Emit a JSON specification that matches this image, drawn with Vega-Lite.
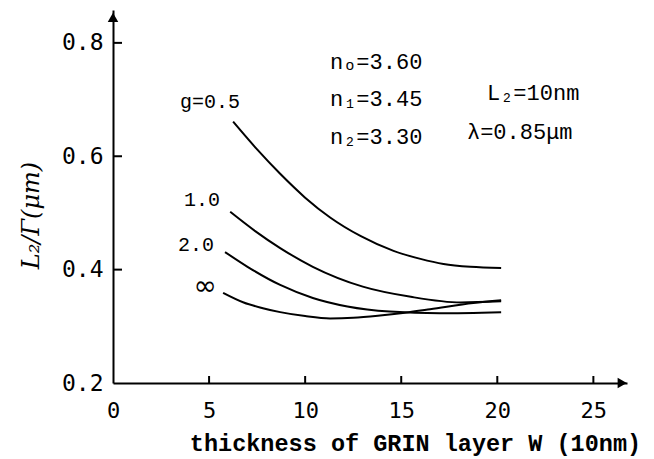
{
  "$schema": "https://vega.github.io/schema/vega-lite/v6.json",
  "width": 514,
  "height": 373,
  "autosize": {"type": "none"},
  "padding": {"left": 113, "top": 10, "right": 27, "bottom": 76},
  "background": "white",
  "config": {
    "view": {"stroke": null},
    "axis": {
      "grid": false,
      "ticks": false,
      "domainColor": "black",
      "domainWidth": 2,
      "labelColor": "black",
      "titleColor": "black",
      "labelFont": "DejaVu Sans Mono",
      "titleFont": "Liberation Mono"
    }
  },
  "datasets": {
    "curves": [
      {"g": "0.5", "w": 6.25, "v": 0.661},
      {"g": "0.5", "w": 7.5, "v": 0.612},
      {"g": "0.5", "w": 8.7, "v": 0.569},
      {"g": "0.5", "w": 10.0, "v": 0.527},
      {"g": "0.5", "w": 11.3, "v": 0.492},
      {"g": "0.5", "w": 12.9, "v": 0.459},
      {"g": "0.5", "w": 14.6, "v": 0.433},
      {"g": "0.5", "w": 16.0, "v": 0.419},
      {"g": "0.5", "w": 17.2, "v": 0.41},
      {"g": "0.5", "w": 18.6, "v": 0.405},
      {"g": "0.5", "w": 20.2, "v": 0.403},
      {"g": "1.0", "w": 6.1, "v": 0.502},
      {"g": "1.0", "w": 7.4, "v": 0.468},
      {"g": "1.0", "w": 8.7, "v": 0.438},
      {"g": "1.0", "w": 10.4, "v": 0.405},
      {"g": "1.0", "w": 13.0, "v": 0.37},
      {"g": "1.0", "w": 15.5, "v": 0.352},
      {"g": "1.0", "w": 18.1, "v": 0.342},
      {"g": "1.0", "w": 20.2, "v": 0.344},
      {"g": "2.0", "w": 5.83, "v": 0.431},
      {"g": "2.0", "w": 7.0, "v": 0.405},
      {"g": "2.0", "w": 8.7, "v": 0.373},
      {"g": "2.0", "w": 10.4, "v": 0.35},
      {"g": "2.0", "w": 12.2, "v": 0.335},
      {"g": "2.0", "w": 14.4, "v": 0.326},
      {"g": "2.0", "w": 17.0, "v": 0.323},
      {"g": "2.0", "w": 20.2, "v": 0.325},
      {"g": "inf", "w": 5.73, "v": 0.359},
      {"g": "inf", "w": 6.8, "v": 0.342},
      {"g": "inf", "w": 7.8, "v": 0.332},
      {"g": "inf", "w": 8.7, "v": 0.325},
      {"g": "inf", "w": 10.0, "v": 0.318},
      {"g": "inf", "w": 11.3, "v": 0.314},
      {"g": "inf", "w": 12.5, "v": 0.315},
      {"g": "inf", "w": 13.9, "v": 0.319},
      {"g": "inf", "w": 15.2, "v": 0.324},
      {"g": "inf", "w": 16.5, "v": 0.33},
      {"g": "inf", "w": 18.75, "v": 0.341},
      {"g": "inf", "w": 20.2, "v": 0.346}
    ],
    "xtickPos": [
      {"w": 5, "v": 0.2},
      {"w": 10, "v": 0.2},
      {"w": 15, "v": 0.2},
      {"w": 20, "v": 0.2},
      {"w": 25, "v": 0.2}
    ],
    "ytickPos": [
      {"w": 0, "v": 0.4},
      {"w": 0, "v": 0.6},
      {"w": 0, "v": 0.8}
    ],
    "curveLabels": [
      {"t": "g=0.5", "w": 5.05, "v": 0.696},
      {"t": "1.0", "w": 4.63, "v": 0.523},
      {"t": "2.0", "w": 4.32, "v": 0.443}
    ],
    "infLabel": [
      {"t": "∞", "w": 4.79, "v": 0.369}
    ],
    "params": [
      {"t": "nₒ=3.60", "w": 11.29, "v": 0.766},
      {"t": "n₁=3.45", "w": 11.29, "v": 0.701},
      {"t": "n₂=3.30", "w": 11.29, "v": 0.634},
      {"t": "L₂=10nm", "w": 19.46, "v": 0.712},
      {"t": "λ=0.85μm", "w": 18.42, "v": 0.643}
    ],
    "arrows": [
      {"a": "y", "w": 0, "v": 0.845},
      {"a": "x", "w": 26.5, "v": 0.2}
    ]
  },
  "layer": [
    {
      "data": {"name": "curves"},
      "mark": {"type": "line", "interpolate": "monotone", "stroke": "black", "strokeWidth": 2},
      "encoding": {
        "x": {
          "field": "w", "type": "quantitative",
          "scale": {"domain": [0, 26.75], "nice": false, "zero": false},
          "axis": {
            "values": [0, 5, 10, 15, 20, 25],
            "labelFontSize": 22,
            "labelPadding": 17,
            "labelFlush": false,
            "title": "thickness of GRIN layer W (10nm)",
            "titleFontSize": 23.5,
            "titleFontWeight": "bold",
            "titleX": 302,
            "titleY": 60,
            "titleAlign": "center",
            "titleBaseline": "middle"
          }
        },
        "y": {
          "field": "v", "type": "quantitative",
          "scale": {"domain": [0.2, 0.858], "nice": false, "zero": false},
          "axis": {
            "values": [0.2, 0.4, 0.6, 0.8],
            "labelExpr": "format(datum.value, '.1f')",
            "labelFontSize": 23,
            "labelPadding": 10,
            "labelFlush": false,
            "title": "L₂/Γ(μm)",
            "titleFont": "DejaVu Serif",
            "titleFontStyle": "italic",
            "titleFontWeight": "normal",
            "titleFontSize": 24,
            "titleX": -82,
            "titleY": 205,
            "titleAngle": 270,
            "titleAlign": "center",
            "titleBaseline": "middle"
          }
        },
        "detail": {"field": "g"}
      }
    },
    {
      "data": {"name": "xtickPos"},
      "mark": {"type": "point", "shape": "M0,0L0,-1", "size": 196, "filled": false, "stroke": "black", "strokeWidth": 2, "opacity": 1},
      "encoding": {
        "x": {"field": "w", "type": "quantitative"},
        "y": {"field": "v", "type": "quantitative"}
      }
    },
    {
      "data": {"name": "ytickPos"},
      "mark": {"type": "point", "shape": "M0,0L1,0", "size": 324, "filled": false, "stroke": "black", "strokeWidth": 2, "opacity": 1},
      "encoding": {
        "x": {"field": "w", "type": "quantitative"},
        "y": {"field": "v", "type": "quantitative"}
      }
    },
    {
      "data": {"name": "curveLabels"},
      "mark": {"type": "text", "font": "Liberation Mono", "fontSize": 20, "align": "center", "baseline": "middle", "color": "black"},
      "encoding": {
        "x": {"field": "w", "type": "quantitative"},
        "y": {"field": "v", "type": "quantitative"},
        "text": {"field": "t"}
      }
    },
    {
      "data": {"name": "infLabel"},
      "mark": {"type": "text", "font": "DejaVu Sans", "fontSize": 28, "align": "center", "baseline": "middle", "color": "black"},
      "encoding": {
        "x": {"field": "w", "type": "quantitative"},
        "y": {"field": "v", "type": "quantitative"},
        "text": {"field": "t"}
      }
    },
    {
      "data": {"name": "params"},
      "mark": {"type": "text", "font": "Liberation Mono", "fontSize": 22, "align": "left", "baseline": "middle", "color": "black"},
      "encoding": {
        "x": {"field": "w", "type": "quantitative"},
        "y": {"field": "v", "type": "quantitative"},
        "text": {"field": "t"}
      }
    },
    {
      "data": {"name": "arrows"},
      "mark": {"type": "point", "filled": true, "color": "black", "opacity": 1, "size": 110},
      "encoding": {
        "x": {"field": "w", "type": "quantitative"},
        "y": {"field": "v", "type": "quantitative"},
        "shape": {"field": "a", "type": "nominal", "scale": {"domain": ["y", "x"], "range": ["triangle-up", "triangle-right"]}, "legend": null}
      }
    }
  ]
}
